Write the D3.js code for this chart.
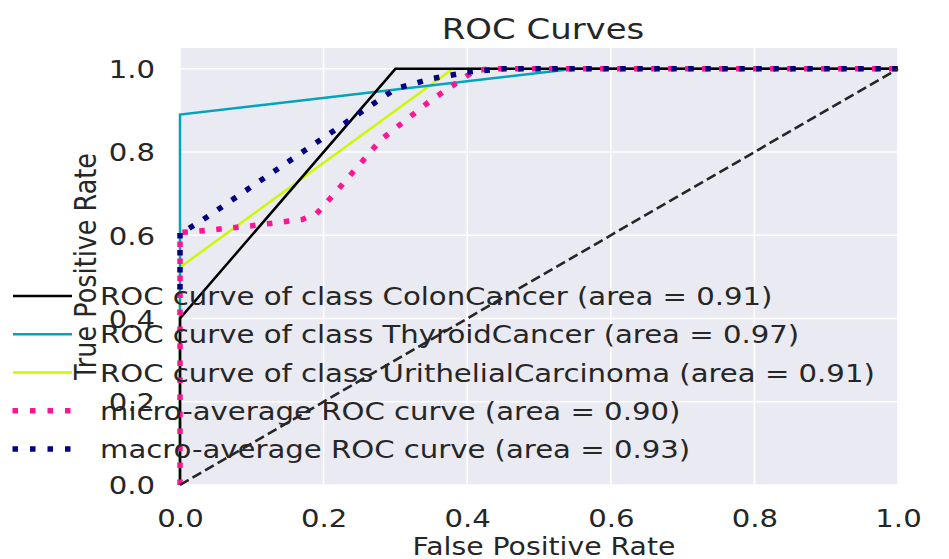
<!DOCTYPE html>
<html>
<head>
<meta charset="utf-8">
<script src="https://cdn.jsdelivr.net/npm/d3@7/dist/d3.min.js"></script>
<style>
  html, body { margin: 0; padding: 0; background: #ffffff; }
  svg { display: block; }
  text { font-family: "DejaVu Sans", sans-serif; fill: #262626; }
</style>
</head>
<body>
<svg id="chart" width="949" height="559"></svg>
<script>
// ---------- data ----------
const xTicks = [0.0, 0.2, 0.4, 0.6, 0.8, 1.0];
const yTicks = [0.0, 0.2, 0.4, 0.6, 0.8, 1.0];

const colonFpr = [0.0, 0.0, 0.30, 1.0];
const colonTpr = [0.0, 0.40, 1.0, 1.0];

const thyroidFpr = [0.0, 0.0, 0.55, 1.0];
const thyroidTpr = [0.0, 0.89, 1.0, 1.0];

const urithelialFpr = [0.0, 0.0, 0.38, 1.0];
const urithelialTpr = [0.0, 0.523, 1.0, 1.0];

const microFpr = [0.0, 0.0, 0.02, 0.05, 0.10, 0.17, 0.19, 0.205, 0.25, 0.28, 0.35, 0.41, 0.43, 1.0];
const microTpr = [0.0, 0.607, 0.609, 0.614, 0.623, 0.638, 0.652, 0.680, 0.770, 0.830, 0.925, 0.995, 1.0, 1.0];

const macroFpr = [0.0, 0.0, 0.008, 0.03, 0.30, 0.35, 0.40, 0.45, 1.0];
const macroTpr = [0.47, 0.61, 0.612, 0.635, 0.952, 0.976, 0.992, 1.0, 1.0];

const seriesNames = [
  "ROC curve of class ColonCancer (area = 0.91)",
  "ROC curve of class ThyroidCancer (area = 0.97)",
  "ROC curve of class UrithelialCarcinoma (area = 0.91)",
  "micro-average ROC curve (area = 0.90)",
  "macro-average ROC curve (area = 0.93)"
];
const seriesColors = ["#000000", "#00a4bb", "#ccf900", "#ff1493", "#000080"];
const seriesDotted = [false, false, false, true, true];

const titleText = "ROC Curves";
const xLabel = "False Positive Rate";
const yLabel = "True Positive Rate";

// ---------- layout ----------
const SX = 1.19;  // horizontal stretch of the original picture
const svg = d3.select("#chart");
const pLeft = 180, pRight = 898, pTop = 48, pBottom = 485;

const x = d3.scaleLinear().domain([0, 1]).range([pLeft, pRight]);
const y = d3.scaleLinear().domain([0, 1.05]).range([pBottom, pTop]);

// background
svg.append("rect").attr("x", pLeft).attr("y", pTop)
  .attr("width", pRight - pLeft).attr("height", pBottom - pTop)
  .attr("fill", "#eaeaf2");

// grid
const grid = svg.append("g");
grid.selectAll("line.gx").data(xTicks).join("line")
  .attr("x1", d => x(d)).attr("x2", d => x(d))
  .attr("y1", pTop).attr("y2", pBottom)
  .attr("stroke", "#ffffff").attr("stroke-width", 1.6);
grid.selectAll("line.gy").data(yTicks).join("line")
  .attr("x1", pLeft).attr("x2", pRight)
  .attr("y1", d => y(d)).attr("y2", d => y(d))
  .attr("stroke", "#ffffff").attr("stroke-width", 1.6);

// axes via d3 (no domain, no ticks, labels only)
const xAxis = d3.axisBottom(x).tickValues(xTicks).tickFormat(d3.format(".1f")).tickSize(0).tickPadding(0);
const yAxis = d3.axisLeft(y).tickValues(yTicks).tickFormat(d3.format(".1f")).tickSize(0).tickPadding(0);

const gx = svg.append("g").attr("transform", `translate(0,${pBottom})`).call(xAxis);
gx.select(".domain").remove();
gx.selectAll(".tick text")
  .attr("y", 0).attr("dy", 0)
  .attr("transform", `translate(0,42) scale(${SX},1)`)
  .style("font-size", "24.5px").style("font-family", "DejaVu Sans, sans-serif")
  .attr("fill", "#262626");

const gy = svg.append("g").attr("transform", `translate(${pLeft},0)`).call(yAxis);
gy.select(".domain").remove();
gy.selectAll(".tick text")
  .attr("x", 0).attr("dy", "0.36em")
  .attr("transform", `translate(-25,0) scale(${SX},1)`)
  .style("font-size", "24.5px").style("font-family", "DejaVu Sans, sans-serif")
  .attr("fill", "#262626");

// curves
const line = d3.line().x(d => x(d[0])).y(d => y(d[1]));
const zip = (a, b) => a.map((v, i) => [v, b[i]]);
const curves = [
  zip(colonFpr, colonTpr),
  zip(thyroidFpr, thyroidTpr),
  zip(urithelialFpr, urithelialTpr),
  zip(microFpr, microTpr),
  zip(macroFpr, macroTpr)
];

const plot = svg.append("g");
const drawOrder = [2, 1, 0, 3, 4];
drawOrder.forEach(i => {
  const c = curves[i];
  const p = plot.append("path").datum(c)
    .attr("d", line).attr("fill", "none")
    .attr("stroke", seriesColors[i]);
  if (seriesDotted[i]) {
    p.attr("stroke-width", 5.5).attr("stroke-dasharray", "5.5 11.5").attr("stroke-linecap", "butt");
  } else {
    p.attr("stroke-width", 2.5).attr("stroke-linejoin", "miter");
  }
});

// chance diagonal
plot.append("path").datum([[0, 0], [1, 1]])
  .attr("d", line).attr("fill", "none")
  .attr("stroke", "#262626").attr("stroke-width", 2.6)
  .attr("stroke-dasharray", "10 4.5");

// title
svg.append("text")
  .attr("transform", `translate(${(pLeft + pRight) / 2 + 4},39) scale(${SX},1)`)
  .attr("text-anchor", "middle").style("font-size", "28.5px")
  .text(titleText);

// axis labels
svg.append("text")
  .attr("transform", `translate(${(pLeft + pRight) / 2 + 5},555) scale(1.11,1)`)
  .attr("text-anchor", "middle").style("font-size", "25.5px")
  .text(xLabel);
svg.append("text")
  .attr("transform", `translate(96,${(pTop + pBottom) / 2}) scale(${SX},1) rotate(-90)`)
  .attr("text-anchor", "middle").style("font-size", "25.5px")
  .text(yLabel);

// legend (no frame)
const legend = svg.append("g");
const rowBase = 305, rowStep = 38.25;
seriesNames.forEach((name, i) => {
  const by = rowBase + i * rowStep;
  const cy = by - 9;
  const h = legend.append("line")
    .attr("x1", 13).attr("x2", 72).attr("y1", cy).attr("y2", cy)
    .attr("stroke", seriesColors[i]);
  if (seriesDotted[i]) {
    h.attr("stroke-width", 5.5).attr("stroke-dasharray", "5.5 12").attr("x1", 12.5);
  } else {
    h.attr("stroke-width", 2.5);
  }
  legend.append("text")
    .attr("transform", `translate(100,${by}) scale(${SX},1)`)
    .style("font-size", "24.5px")
    .text(name);
});
</script>
</body>
</html>
